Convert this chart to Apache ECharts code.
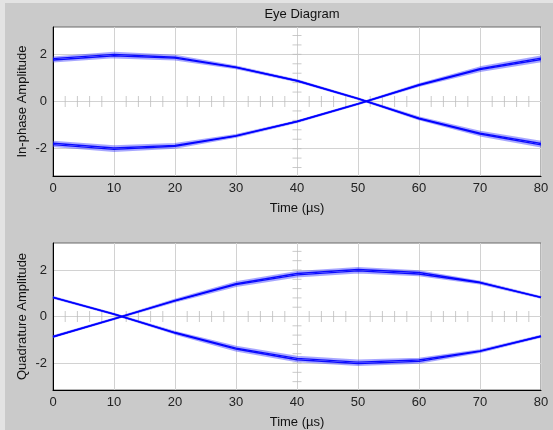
<!DOCTYPE html>
<html>
<head>
<meta charset="utf-8">
<script src="https://cdn.jsdelivr.net/npm/echarts@6/dist/echarts.min.js"></script>
<style>
  html, body { margin: 0; padding: 0; }
  #chart { width: 553px; height: 430px; background: #cacaca; box-shadow: inset 5px 3px 0 #e3e3e3; }
</style>
</head>
<body>
<div id="chart"></div>
<script>
// ---- data ----
const timeUs = [0, 10, 20, 30, 40, 50, 60, 70, 80];

// In-phase traces (overlapping traces per branch: two outer, two inner)
const iFallOutHi = [1.86, 2.06, 1.93, 1.48, 0.89, 0.12, -0.69, -1.29, -1.72];
const iFallIn1   = [1.82, 2.00, 1.88, 1.46, 0.88, 0.12, -0.71, -1.34, -1.78];
const iFallIn2   = [1.76, 1.94, 1.84, 1.44, 0.88, 0.12, -0.73, -1.38, -1.84];
const iFallOutLo = [1.71, 1.88, 1.79, 1.42, 0.87, 0.12, -0.75, -1.43, -1.90];
const iRiseOutHi = [-1.72, -1.91, -1.81, -1.43, -0.84, -0.10, 0.73, 1.44, 1.90];
const iRiseIn1   = [-1.77, -1.97, -1.86, -1.45, -0.85, -0.10, 0.71, 1.39, 1.84];
const iRiseIn2   = [-1.83, -2.03, -1.90, -1.47, -0.85, -0.10, 0.69, 1.35, 1.78];
const iRiseOutLo = [-1.88, -2.09, -1.95, -1.49, -0.86, -0.10, 0.67, 1.30, 1.72];

// Quadrature traces
const qFallOutHi = [0.83, 0.10, -0.67, -1.31, -1.74, -1.90, -1.82, -1.46, -0.84];
const qFallIn1   = [0.82, 0.10, -0.69, -1.36, -1.80, -1.96, -1.87, -1.48, -0.85];
const qFallIn2   = [0.82, 0.10, -0.71, -1.40, -1.86, -2.02, -1.93, -1.50, -0.85];
const qFallOutLo = [0.81, 0.10, -0.73, -1.45, -1.92, -2.08, -1.98, -1.52, -0.86];
const qRiseOutHi = [-0.86, -0.10, 0.71, 1.46, 1.91, 2.08, 1.94, 1.49, 0.83];
const qRiseIn1   = [-0.87, -0.10, 0.69, 1.41, 1.85, 2.02, 1.89, 1.47, 0.82];
const qRiseIn2   = [-0.87, -0.10, 0.67, 1.37, 1.79, 1.96, 1.83, 1.45, 0.82];
const qRiseOutLo = [-0.88, -0.10, 0.65, 1.32, 1.73, 1.90, 1.78, 1.43, 0.81];

// axis ticks
const xTickStep = 10;
const xMin = 0, xMax = 80;
const yLimit = 3.16;
const yTickLabels = [-2, 0, 2];
const minorX = [2,4,6,8,12,14,16,18,22,24,26,28,32,34,36,38,42,44,46,48,52,54,56,58,62,64,66,68,72,74,76,78];
const minorY = [-2.8,-2.4,-2,-1.6,-1.2,-0.8,-0.4,0.4,0.8,1.2,1.6,2,2.4,2.8];
const minorYAtX = 40;

const titleText = 'Eye Diagram';
const xName = 'Time (\u00b5s)';
const yNames = ['In-phase Amplitude', 'Quadrature Amplitude'];

// ---- chart ----
const FONT = '"Liberation Sans", Arial, sans-serif';
const chart = echarts.init(document.getElementById('chart'), null, { renderer: 'canvas' });

function pairs(ys) { return timeUs.map((t, i) => [t, ys[i]]); }

function xAxisDef(gi) {
  return {
    gridIndex: gi, type: 'value', min: xMin, max: xMax, interval: xTickStep,
    name: xName, nameLocation: 'middle', nameGap: 26, nameMoveOverlap: false,
    nameTextStyle: { fontFamily: FONT, fontSize: 13, color: '#111' },
    axisLine: { show: true, onZero: false, lineStyle: { color: '#000', width: 1 } },
    axisTick: { show: false },
    axisLabel: { fontFamily: FONT, fontSize: 13, color: '#222', margin: 6 },
    splitLine: { show: true, lineStyle: { color: '#d2d2d2', width: 1 } }
  };
}
function yAxisDef(gi) {
  return {
    gridIndex: gi, type: 'value', min: -yLimit, max: yLimit,
    name: yNames[gi], nameLocation: 'middle', nameGap: 24, nameMoveOverlap: false,
    nameTextStyle: { fontFamily: FONT, fontSize: 13, color: '#111' },
    axisLine: { show: true, lineStyle: { color: '#000', width: 1 } },
    axisTick: { show: false, customValues: yTickLabels },
    axisLabel: { fontFamily: FONT, fontSize: 13, color: '#222', margin: 6, customValues: yTickLabels },
    splitLine: { show: true, lineStyle: { color: '#d2d2d2', width: 1 } }
  };
}

function traceSeries(gi, ys, kind) {
  const styles = {
    outer: { color: '#3c3cff', width: 2.4, opacity: 0.45 },
    inner: { color: '#0000ff', width: 1.4, opacity: 0.95 }
  };
  return {
    type: 'line', xAxisIndex: gi, yAxisIndex: gi, data: pairs(ys),
    showSymbol: false, smooth: false, silent: true, animation: false,
    lineStyle: styles[kind], z: kind === 'inner' ? 4 : 3
  };
}
function tickSeries(gi) {
  return [
    {
      type: 'scatter', xAxisIndex: gi, yAxisIndex: gi, silent: true, animation: false,
      data: minorX.map(x => [x, 0]), symbol: 'rect', symbolSize: [1, 11],
      itemStyle: { color: '#bdbdbd' }, z: 1
    },
    {
      type: 'scatter', xAxisIndex: gi, yAxisIndex: gi, silent: true, animation: false,
      data: minorY.map(y => [minorYAtX, y]), symbol: 'rect', symbolSize: [9, 1],
      itemStyle: { color: '#bdbdbd' }, z: 1
    }
  ];
}

const series = [
  ...tickSeries(0), ...tickSeries(1),
  traceSeries(0, iFallOutHi, 'outer'), traceSeries(0, iFallOutLo, 'outer'),
  traceSeries(0, iRiseOutHi, 'outer'), traceSeries(0, iRiseOutLo, 'outer'),
  traceSeries(0, iFallIn1, 'inner'), traceSeries(0, iFallIn2, 'inner'),
  traceSeries(0, iRiseIn1, 'inner'), traceSeries(0, iRiseIn2, 'inner'),
  traceSeries(1, qFallOutHi, 'outer'), traceSeries(1, qFallOutLo, 'outer'),
  traceSeries(1, qRiseOutHi, 'outer'), traceSeries(1, qRiseOutLo, 'outer'),
  traceSeries(1, qFallIn1, 'inner'), traceSeries(1, qFallIn2, 'inner'),
  traceSeries(1, qRiseIn1, 'inner'), traceSeries(1, qRiseIn2, 'inner')
];

chart.setOption({
  backgroundColor: 'transparent',
  animation: false,
  title: {
    text: titleText, left: 297, top: 3, textAlign: 'center',
    textStyle: { fontFamily: FONT, fontSize: 13, fontWeight: 'normal', color: '#111' }
  },
  grid: [
    { left: 53, top: 27, width: 488, height: 149, show: true, backgroundColor: '#fff', borderColor: '#6a6a6a', borderWidth: 1 },
    { left: 53, top: 243, width: 488, height: 148, show: true, backgroundColor: '#fff', borderColor: '#6a6a6a', borderWidth: 1 }
  ],
  xAxis: [xAxisDef(0), xAxisDef(1)],
  yAxis: [yAxisDef(0), yAxisDef(1)],
  series: series
});
</script>
</body>
</html>
